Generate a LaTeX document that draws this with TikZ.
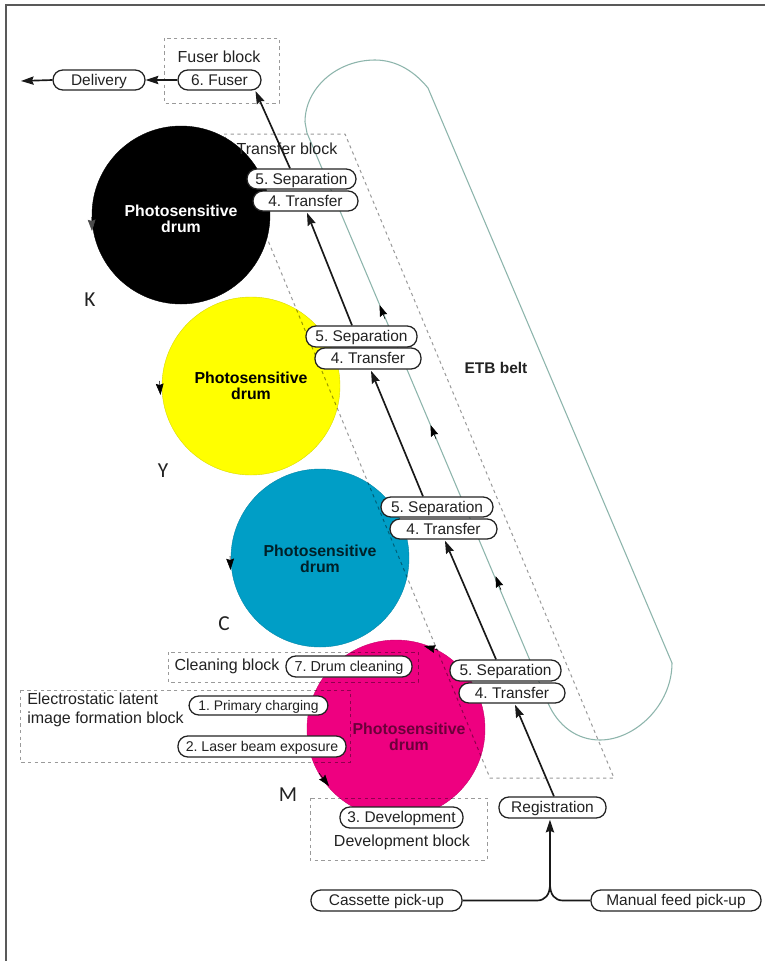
\documentclass[tikz,border=0pt]{standalone}
\usepackage{fontspec}
\setmainfont{Liberation Sans}
\newfontfamily\tagfont{Carlito}
\usetikzlibrary{arrows.meta,calc}
\definecolor{belt}{HTML}{8DB5AC}
\definecolor{dashgrey}{HTML}{9A9A9A}
\definecolor{inkk}{HTML}{222222}
\definecolor{drumY}{HTML}{FFFF00}
\definecolor{drumC}{HTML}{009EC6}
\definecolor{drumM}{HTML}{EE0080}
\tikzset{
  drumdisc/.style={circle,minimum size=133.5pt,inner sep=0pt,draw=#1!85!black,line width=.3pt,fill=#1},
  drumtext/.style={font=\fontsize{11.9}{12}\selectfont\bfseries,align=center,inner sep=0pt},
  pillbox/.style={draw=inkk,fill=white,line width=.95pt,rounded corners=7.4pt,inner sep=0pt,text=inkk,text height=9.5pt,text depth=1.5pt,font=\fontsize{11.6}{12}\selectfont},
  blockbox/.style={draw=dashgrey,line width=.75pt,dash pattern=on 2.4pt off 2.6pt},
  blocktext/.style={text=inkk,inner sep=0pt,font=\fontsize{12}{14.2}\selectfont},
  flow/.style={draw=black!90,line width=1.25pt,-{Stealth[length=9.5pt,width=6.2pt,inset=1.2pt]}},
  smalltip/.style={draw=black,line width=.4pt,-{Stealth[length=8.5pt,width=5.8pt,inset=1pt]}},
  beltline/.style={draw=belt,line width=.8pt},
  lettertag/.style={text=inkk,inner sep=0pt,font=\tagfont\fontsize{16}{16}\selectfont}
}
\newcommand{\pill}[7][]{\node[pillbox,#1,minimum width={(#5-#3)*0.75pt},minimum height={(#6-#4)*0.75pt}] (#2) at ({(#3+#5)/2},{(#4+#6)/2}) {#7};}
\begin{document}
\frenchspacing
\begin{tikzpicture}[x=0.75pt,y=-0.75pt]
\useasboundingbox (0,0) rectangle (765,961);
\fill[white] (0,0) rectangle (765,961);
% frame
\draw[draw=black!65,line width=1.1pt] (6,961) -- (6,5) -- (765,5);
% drums
\node[drumdisc=black] (drK) at (181,215) {};
\node[drumdisc=drumY] (drY) at (251,386) {};
\node[drumdisc=drumC] (drC) at (320,558) {};
\node[drumdisc=drumM] (drM) at (396,729) {};
\node[drumtext,text=white] (txK) at (181,219) {Photosensitive\\drum};
\node[drumtext,text=black] (txY) at (251,386) {Photosensitive\\drum};
\node[drumtext,text=black!80!drumC] (txC) at (320,559) {Photosensitive\\drum};
\node[drumtext,text=black!55!drumM] (txM) at (409,737) {Photosensitive\\drum};
% rotation arrows on the drums
\draw[smalltip,draw=black!70] (91.5,217) -- (92,231);
\draw[smalltip] (159.5,381) -- (160.5,395);
\draw[smalltip] (230,556) -- (230.5,570);
\draw[smalltip] (319,773) -- (329,786);
\draw[smalltip] (438,650) -- (424,646);
% blocks
\begin{scope}[blend mode=multiply]
\draw[blockbox] (224,134) -- (345,134) -- (614,778) -- (490,778) -- cycle;
\draw[blockbox] (164,38) rectangle (279,103);
\draw[blockbox] (168,652) rectangle (418,682);
\draw[blockbox] (20,690) rectangle (350,762);
\draw[blockbox] (310,798) rectangle (487,860);
\end{scope}
% belt
\draw[beltline] (428,88) .. controls (415,72) and (397,60) .. (375,60)
  .. controls (337,60) and (305,88) .. (305,122) -- (307,133) -- (548,703)
  .. controls (558,726) and (577,740) .. (600,740)
  .. controls (635,740) and (672,705) .. (672,663) -- cycle;
\draw[smalltip] (385,319) -- (379.5,305);
\draw[smalltip] (436,439) -- (430.5,425);
\draw[smalltip] (501,590) -- (495.5,576);
% block labels
\node[blocktext] (lbFuser) at (219,57) {Fuser block};
\node[blocktext] (lbTrans) at (287,149) {Transfer block};
\node[blocktext] (lbClean) at (227,666) {Cleaning block};
\node[blocktext,align=left,anchor=north west] (lbLatent) at (27,693) {Electrostatic latent\\image formation block};
\node[blocktext] (lbDev) at (402,842) {Development block};
\node[font=\fontsize{11.6}{12}\selectfont\bfseries,text=inkk,inner sep=0pt] (lbBelt) at (496,368) {ETB belt};
% pills
\pill{fuser}{178}{70}{261}{90}{6. Fuser}
\pill{deliv}{53}{70}{145}{90}{Delivery}
\pill{sepK}{247}{169}{356}{189}{5. Separation}
\pill{trK}{253}{191}{358}{211}{4. Transfer}
\pill{sepY}{306}{326}{417}{347}{5. Separation}
\pill{trY}{315}{348}{421}{369}{4. Transfer}
\pill{sepC}{381}{497}{493}{517}{5. Separation}
\pill{trC}{390}{519}{497}{539}{4. Transfer}
\pill{sepM}{450}{660}{561}{681}{5. Separation}
\pill{trM}{459}{683}{565}{703}{4. Transfer}
\pill{reg}{499}{797}{606}{818}{Registration}
\pill{cass}{311}{890}{462}{911}{Cassette pick-up}
\pill{manual}{591}{890}{761}{911}{Manual feed pick-up}
\pill[font=\fontsize{10.8}{12}\selectfont]{clean}{286}{656}{412}{677}{7. Drum cleaning}
\pill[font=\fontsize{10.4}{12}\selectfont]{charge}{189}{696}{328}{715}{1. Primary charging}
\pill[font=\fontsize{10.6}{12}\selectfont]{laser}{178}{736}{346}{757}{2. Laser beam exposure}
\pill{devel}{340}{807}{463}{828}{3. Development}
% flows
\coordinate (merge) at (550,884);
\coordinate (exit) at (21,81);
\draw[flow] ([xshift=1.1pt]reg.north) -- ([xshift=2.25pt,yshift=-.8pt]trM.south);
\draw[flow] ([xshift=-7.1pt]sepM.north) -- ([xshift=1.1pt,yshift=-.8pt]trC.south);
\draw[flow] ([xshift=-10.5pt]sepC.north) -- ([xshift=2.25pt,yshift=-.8pt]trY.south);
\draw[flow] ([xshift=-7.1pt]sepY.north) -- ([xshift=1.1pt,yshift=-.8pt]trK.south);
\draw[flow] ([xshift=-8.6pt]sepK.north) -- ([xshift=-4.6pt,yshift=-.3pt]fuser.south east);
\draw[flow] (fuser.west) -- (deliv.east);
\draw[flow] (deliv.west) -- (exit);
\draw[line width=1.25pt,draw=black!90] (cass.east) -- (537,900.5) .. controls (545,900.5) and (550,895) .. (merge);
\draw[line width=1.25pt,draw=black!90] (manual.west) -- (563,900.5) .. controls (555,900.5) and (550,895) .. (merge);
\draw[flow] (merge) -- ([xshift=-1.9pt,yshift=-.8pt]reg.south);
% colour letters
\node[lettertag] (tagK) at (90,300) {K};
\node[lettertag] (tagY) at (163,471) {Y};
\node[lettertag] (tagC) at (224,624) {C};
\node[lettertag] (tagM) at (288,795) {M};
\end{tikzpicture}
\end{document}
